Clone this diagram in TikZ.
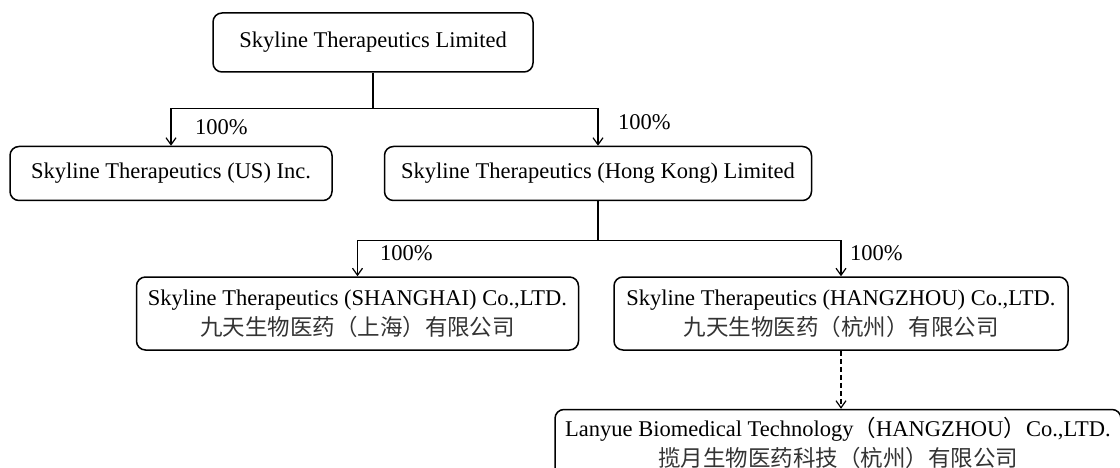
\documentclass[tikz,border=0pt]{standalone}
\usepackage{fontspec}
\setmainfont{Liberation Serif}
\newfontfamily\cjk{Noto Sans CJK SC}
\usepackage{xcolor}
\usepackage{tikz}
\usetikzlibrary{arrows.meta, positioning}

\newcommand{\entityfont}{\fontsize{22.5}{30}\selectfont}
\newcommand{\zh}[1]{{\cjk\color{black!80}#1}}

\begin{document}
\begin{tikzpicture}[
    x=1pt, y=-1pt,
    entity/.style={rectangle, draw, line width=1.5pt, rounded corners=9pt, inner sep=0pt, align=center, font=\entityfont, minimum height=54pt},
    arrow/.style={->, >={Straight Barb[length=7pt,width=10pt]}, line width=1.2pt},
    link/.style={line width=1.2pt},
    dasharrow/.style={arrow, dash pattern=on 5pt off 3pt},
    share/.style={anchor=west, inner sep=0pt, font=\entityfont}
]
\useasboundingbox (0,0) rectangle (1120,468);

% Parent company
\node[entity, minimum width=320pt, minimum height=59pt] (parent) at (373,42.5) {Skyline Therapeutics Limited};

% First level
\node[entity, below=73pt of parent, xshift=-202pt, minimum width=322pt] (us) {Skyline Therapeutics (US) Inc.};
\node[entity, right=51pt of us, minimum width=427pt] (hk) {Skyline Therapeutics (Hong Kong) Limited};

% Second level
\node[entity, below=75pt of hk, xshift=-240.5pt, minimum width=442pt, minimum height=73pt] (sh) {Skyline Therapeutics (SHANGHAI) Co.,LTD.\\\zh{九天生物医药（上海）有限公司}};
\node[entity, right=34pt of sh, minimum width=454pt, minimum height=73pt] (hz) {Skyline Therapeutics (HANGZHOU) Co.,LTD.\\\zh{九天生物医药（杭州）有限公司}};

% Third level
\node[entity, below=58pt of hz, xshift=-3pt, minimum width=566pt, minimum height=67pt] (ly) {Lanyue Biomedical Technology{\cjk（}HANGZHOU{\cjk）}Co.,LTD.\\\zh{揽月生物医药科技（杭州）有限公司}};

% Split points
\coordinate[below=36pt of parent] (split_parent);
\coordinate[below=39pt of hk] (split_hk);

% Shares
\node[share] (pct_us) at (195,127) {100\%};
\node[share] (pct_hk) at (618,122) {100\%};
\node[share] (pct_sh) at (380,253) {100\%};
\node[share] (pct_hz) at (850,253) {100\%};

% Arrows - parent
\draw[link] (parent) -- (split_parent);
\draw[arrow] (split_parent) -| (us);
\draw[arrow] (split_parent) -| (hk);

% Arrows - Hong Kong
\draw[link] (hk) -- (split_hk);
\draw[arrow] (split_hk) -| (sh);
\draw[arrow] (split_hk) -| (hz);

% Arrow - Lanyue
\draw[dasharrow] (hz) -- (hz.south |- ly.north);

\end{tikzpicture}
\end{document}
